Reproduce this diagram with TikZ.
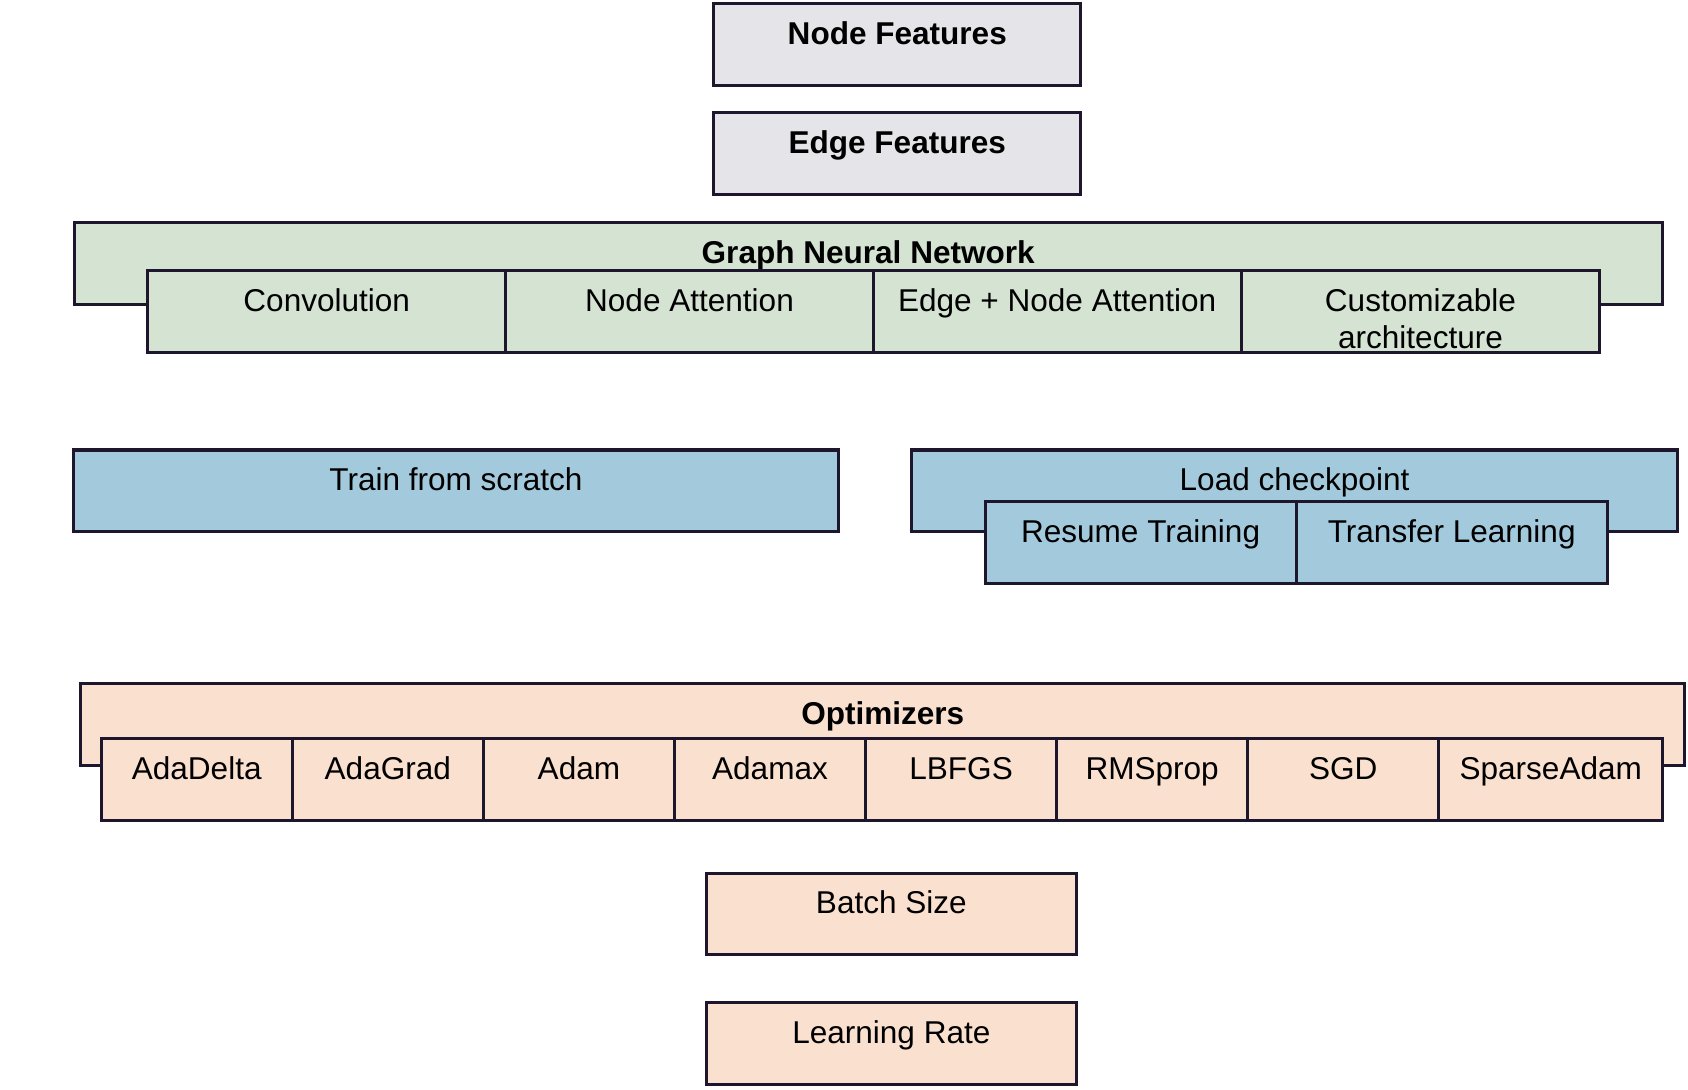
\documentclass[tikz,border=0pt]{standalone}
\usepackage{fontspec}
\setmainfont{Liberation Sans}
\usetikzlibrary{positioning}

\definecolor{boxline}{RGB}{30,22,45}
\definecolor{featgray}{RGB}{229,228,232}
\definecolor{gnngreen}{RGB}{213,227,211}
\definecolor{ckptblue}{RGB}{163,202,220}
\definecolor{optpeach}{RGB}{250,224,207}

\begin{document}
\begin{tikzpicture}[x=0.5pt,y=-0.5pt,
    box/.style={draw=boxline, line width=1.4pt, outer sep=0pt, inner sep=0pt,
      align=center, text height=19pt, text depth=19pt,
      font=\fontsize{14.65}{17.5}\selectfont},
    boxw/.style={minimum width=#1*0.5pt},
    feat/.style={fill=featgray},
    gnn/.style={fill=gnngreen},
    ckpt/.style={fill=ckptblue},
    optim/.style={fill=optpeach}]
    \useasboundingbox (0,0) rectangle (1568,1011.6);
    % features
    \node[box, feat, boxw=341] (nodefeat) at (833.5,41) {\textbf{Node Features}};
    \node[box, feat, boxw=341] (edgefeat) at (833.5,142.5) {\textbf{Edge Features}};
    % graph neural network
    \node[box, gnn, boxw=1475] (gnnet) at (806.5,245) {\textbf{Graph Neural Network}};
    \node[box, gnn, boxw=333] (conv) at (303.5,289) {Convolution};
    \node[box, gnn, boxw=341, right=0pt of conv] (nattn) {Node Attention};
    \node[box, gnn, boxw=342, right=0pt of nattn] (enattn) {Edge + Node Attention};
    \node[box, gnn, boxw=333, text width=160pt, right=0pt of enattn] (custom)
      {Customizable\\architecture};
    % training start
    \node[box, ckpt, boxw=711] (scratch) at (423.5,456) {Train from scratch};
    \node[box, ckpt, boxw=711] (loadckpt) at (1202.5,456) {Load checkpoint};
    \node[box, ckpt, boxw=289] (resume) at (1059.5,504) {Resume Training};
    \node[box, ckpt, boxw=289, right=0pt of resume] (transfer) {Transfer Learning};
    % optimizers
    \node[box, optim, boxw=1490] (optimizers) at (820,673) {\textbf{Optimizers}};
    \foreach \name/\lab [count=\i] in {adadelta/AdaDelta, adagrad/AdaGrad,
        adam/Adam, adamax/Adamax, lbfgs/LBFGS, rmsprop/RMSprop, sgd/SGD}
      \node[box, optim, boxw=177.5] (\name) at ({94+177.5*(\i-0.5)},724) {\lab};
    \node[box, optim, boxw=208, right=0pt of sgd] (sparseadam) {SparseAdam};
    % hyperparameters
    \node[box, optim, boxw=344] (batch) at (828,849) {Batch Size};
    \node[box, optim, boxw=344] (lrate) at (828,969) {Learning Rate};
\end{tikzpicture}
\end{document}
